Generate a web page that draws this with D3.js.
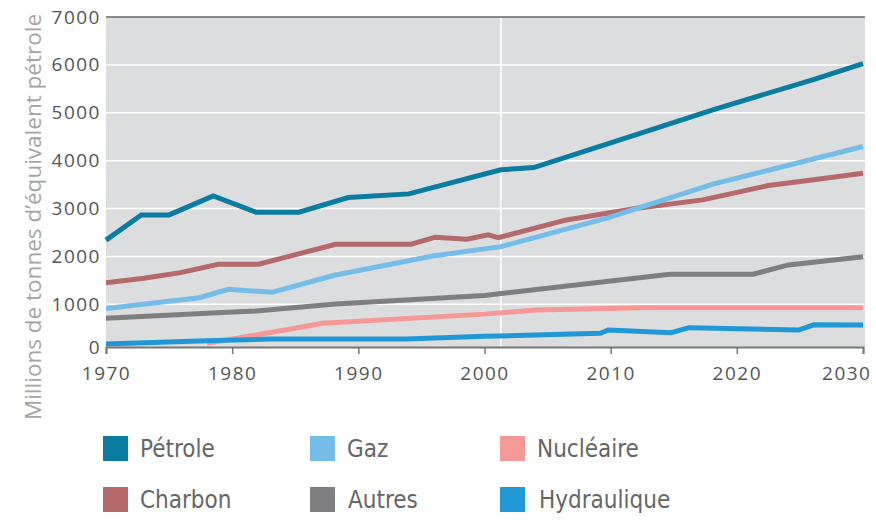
<!DOCTYPE html>
<html>
<head>
<meta charset="utf-8">
<script src="https://cdn.jsdelivr.net/npm/d3@7"></script>
<style>
  body { margin: 0; background: #fff; }
  svg text { font-family: "Open Sans", "DejaVu Sans", sans-serif; }
  svg text.legend-label { font-family: "DejaVu Sans Condensed", "DejaVu Sans", sans-serif; font-stretch: condensed; }
</style>
</head>
<body>
<div id="graphic"></div>
<script>
// years and values (Mtep)
var petroleYears = [1970, 1972.8, 1975, 1978.5, 1981.9, 1985.3, 1989.2, 1994, 2001.3, 2003.9, 2010, 2018.1, 2026, 2030];
var petroleValues = [2340, 2867, 2867, 3264, 2924, 2924, 3229, 3306, 3808, 3856, 4370, 5062, 5689, 6024];

var gazYears = [1970, 1977.4, 1979.7, 1983.2, 1988.1, 1995.9, 2001.3, 2009.7, 2018.1, 2030];
var gazValues = [900, 1138, 1314, 1251, 1606, 2010, 2204, 2798, 3509, 4295];

var charbonYears = [1970, 1973, 1975.9, 1978.9, 1982.1, 1988.2, 1994.2, 1996.1, 1998.6, 2000.3, 2001.1, 2006.5, 2012.1, 2017.3, 2022.5, 2026.1, 2030];
var charbonValues = [1452, 1543, 1661, 1836, 1836, 2254, 2254, 2401, 2359, 2449, 2392, 2762, 3007, 3181, 3480, 3599, 3739];

var autresYears = [1970, 1978.8, 1981.9, 1988.2, 2000, 2014.7, 2021.3, 2024.1, 2030];
var autresValues = [672, 802, 843, 1007, 1185, 1627, 1627, 1822, 1995];

var nucleaireYears = [1978, 1983.4, 1987.2, 2000, 2004.1, 2012.3, 2030];
var nucleaireValues = [87, 358, 555, 770, 866, 920, 920];

var hydrauliqueYears = [1970, 1978, 1983, 1993.8, 2000, 2009.2, 2009.8, 2014.8, 2016.2, 2024.9, 2026.1, 2030];
var hydrauliqueValues = [70, 148, 187, 187, 250, 321, 398, 335, 452, 398, 520, 515];

var seriesNames = ["Pétrole", "Gaz", "Nucléaire", "Charbon", "Autres", "Hydraulique"];
var seriesColors = ["#0a7ca0", "#74bde8", "#f59896", "#b46a6a", "#7f7f81", "#1f98d5"];

var xTicks = [1970, 1980, 1990, 2000, 2010, 2020, 2030];
var yTicks = [0, 1000, 2000, 3000, 4000, 5000, 6000, 7000];
var divideYear = 2001.3;
var yTitle = "Millions de tonnes d\u2019équivalent pétrole";

var graphic = new Object;

graphic.create = function() {
  var svg, x, y, g, line, series, legend, xAxis, yAxis;
  var left = 106, right = 863, top = 17, bottom = 347;

  svg = d3.select("#graphic").append("svg").attr("width", 876).attr("height", 520);

  x = d3.scaleLinear().domain([1970, 2030]).range([left, right]);
  // bottom band is a bit squeezed in the original, so the scale is piecewise
  y = d3.scaleLinear().domain([0, 1000, 7000]).range([bottom, 304.3, top]);

  svg.append("rect").attr("x", left).attr("y", top)
    .attr("width", right - left + 2).attr("height", bottom - top)
    .attr("fill", "#dcdddf");

  // grid
  g = svg.append("g");
  g.selectAll("line.h").data(yTicks.slice(1, -1)).enter().append("line")
    .attr("x1", left).attr("x2", right + 2)
    .attr("y1", function(d) { return y(d); }).attr("y2", function(d) { return y(d); })
    .attr("stroke", "#fff").attr("stroke-width", 1.5);
  g.append("line")
    .attr("x1", x(divideYear)).attr("x2", x(divideYear))
    .attr("y1", top).attr("y2", bottom)
    .attr("stroke", "#fff").attr("stroke-width", 1.5);
  g.append("line")
    .attr("x1", left).attr("x2", right + 2)
    .attr("y1", top).attr("y2", top)
    .attr("stroke", "#666").attr("stroke-width", 1.5);

  series = [
    [petroleYears, petroleValues, 0],
    [charbonYears, charbonValues, 3],
    [gazYears, gazValues, 1],
    [autresYears, autresValues, 4],
    [nucleaireYears, nucleaireValues, 2],
    [hydrauliqueYears, hydrauliqueValues, 5]
  ];

  line = d3.line().x(function(d) { return x(d[0]); }).y(function(d) { return y(d[1]); });

  svg.append("g").selectAll("path").data(series).enter().append("path")
    .attr("d", function(s) { return line(d3.zip(s[0], s[1])); })
    .attr("fill", "none")
    .attr("stroke", function(s) { return seriesColors[s[2]]; })
    .attr("stroke-width", 5)
    .attr("stroke-linejoin", "miter");

  // axes
  xAxis = svg.append("g").attr("transform", "translate(0," + bottom + ")")
    .call(d3.axisBottom(x).tickValues(xTicks).tickFormat(d3.format("d")).tickSize(7).tickPadding(13));
  xAxis.select(".domain").attr("stroke", "#777").attr("stroke-width", 2);
  xAxis.selectAll(".tick line").attr("stroke", "#777").attr("stroke-width", 1.5);
  xAxis.selectAll("text").attr("fill", "#555").style("font-size", "19px")
    .style("letter-spacing", "1.5px").attr("font-family", null);
  // last label is pushed in so it stays inside the page
  xAxis.selectAll(".tick").filter(function(d) { return d === 2030; }).select("text")
    .attr("text-anchor", "end").attr("x", 8);

  yAxis = svg.append("g").attr("transform", "translate(" + left + ",0)")
    .call(d3.axisLeft(y).tickValues(yTicks).tickFormat(d3.format("d")).tickSize(0).tickPadding(5));
  yAxis.select(".domain").remove();
  yAxis.selectAll("text").attr("fill", "#555").style("font-size", "19px")
    .style("letter-spacing", "1.5px").attr("font-family", null);

  svg.append("text")
    .attr("transform", "translate(41," + 217 + ") rotate(-90)")
    .attr("text-anchor", "middle")
    .attr("fill", "#a5a5a5")
    .style("font-size", "22.5px")
    .text(yTitle);

  // legend, 3 columns x 2 rows
  legend = svg.append("g").selectAll("g").data(seriesNames).enter().append("g")
    .attr("transform", function(d, i) {
      return "translate(" + [103, 310, 500][i % 3] + "," + (436 + Math.floor(i / 3) * 51) + ")";
    });
  legend.append("rect").attr("width", 25).attr("height", 25)
    .attr("fill", function(d, i) { return seriesColors[i]; });
  legend.append("text").attr("class", "legend-label")
    .attr("x", function(d, i) { return [37, 37, 37, 37, 38, 39][i]; })
    .attr("y", 21)
    .attr("fill", "#666")
    .style("font-size", "24px")
    .text(function(d) { return d; });
};

graphic.create();
</script>
</body>
</html>
